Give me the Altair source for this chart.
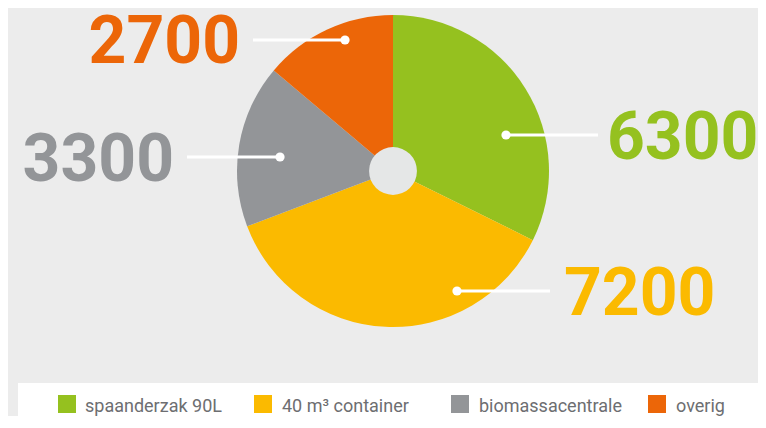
import altair as alt
import pandas as pd

# ---- data ----
categories = ["spaanderzak 90L", "40 m³ container", "biomassacentrale", "overig"]
values = [6300, 7200, 3300, 2700]
colors = ["#95c11f", "#fbba00", "#939598", "#ec6608"]

# ---- layout (pixel positions of annotations, chart coordinates) ----
W, H = 750, 408
CX, CY, R, HOLE = 385, 163, 156, 27
label_x = [599, 556, 166, 232]
label_y = [151, 307, 173, 55]
label_align = ["left", "left", "right", "right"]
line_x1 = [498, 449, 179, 245]
line_x2 = [590, 542, 272, 337]
line_y = [127, 283, 149, 32]
dot_x = [498, 449, 272, 337]
legend_sq_x = [59, 255, 452, 649]
legend_txt_x = [77, 274, 471, 668]
legend_y_sq = 396
legend_y_txt = 404

pie_df = pd.DataFrame({"cat": categories, "value": values, "idx": list(range(4))})
lab_df = pd.DataFrame({
    "cat": categories, "value": values, "x": label_x, "y": label_y, "align": label_align,
    "x1": line_x1, "x2": line_x2, "ly": line_y, "dx": dot_x,
})
leg_df = pd.DataFrame({"cat": categories, "sx": legend_sq_x, "tx": legend_txt_x})

xs = alt.Scale(domain=[0, W], nice=False, zero=False)
ys = alt.Scale(domain=[0, H], nice=False, zero=False, reverse=True)
col = alt.Color("cat:N", scale=alt.Scale(domain=categories, range=colors), legend=None)

pie = alt.Chart(pie_df).mark_arc(radius=R).encode(
    theta=alt.Theta("value:Q", stack=True),
    color=col,
    order=alt.Order("idx:Q"),
    x=alt.value(CX),
    y=alt.value(CY),
)

hole = alt.Chart(pd.DataFrame({"x": [CX], "y": [CY]})).mark_circle(
    size=3.14159 * HOLE * HOLE, color="#e5e7e7", opacity=1
).encode(
    x=alt.X("x:Q", scale=xs, axis=None),
    y=alt.Y("y:Q", scale=ys, axis=None),
)

lines = alt.Chart(lab_df).mark_rule(color="white", strokeWidth=3).encode(
    x=alt.X("x1:Q", scale=xs, axis=None),
    x2="x2:Q",
    y=alt.Y("ly:Q", scale=ys, axis=None),
)

dots = alt.Chart(lab_df).mark_circle(size=85, color="white", opacity=1).encode(
    x=alt.X("dx:Q", scale=xs, axis=None),
    y=alt.Y("ly:Q", scale=ys, axis=None),
)

labels_left = alt.Chart(lab_df).transform_filter(alt.datum.align == "left").mark_text(
    font="Roboto", fontWeight="bold", fontSize=66, align="left", baseline="alphabetic"
).encode(
    x=alt.X("x:Q", scale=xs, axis=None),
    y=alt.Y("y:Q", scale=ys, axis=None),
    text="value:Q",
    color=col,
)
labels_right = alt.Chart(lab_df).transform_filter(alt.datum.align == "right").mark_text(
    font="Roboto", fontWeight="bold", fontSize=66, align="right", baseline="alphabetic"
).encode(
    x=alt.X("x:Q", scale=xs, axis=None),
    y=alt.Y("y:Q", scale=ys, axis=None),
    text="value:Q",
    color=col,
)

legend_box = alt.Chart(pd.DataFrame({"x": [10], "x2": [W + 5], "y": [375], "y2": [H + 5]})).mark_rect(
    color="white"
).encode(
    x=alt.X("x:Q", scale=xs, axis=None), x2="x2:Q",
    y=alt.Y("y:Q", scale=ys, axis=None), y2="y2:Q",
)

leg_sq = alt.Chart(leg_df).mark_square(size=18 * 18, opacity=1).encode(
    x=alt.X("sx:Q", scale=xs, axis=None),
    y=alt.Y(datum=legend_y_sq, scale=ys, axis=None),
    color=col,
)
leg_txt = alt.Chart(leg_df).mark_text(
    font="Roboto", fontSize=18, align="left", baseline="alphabetic", color="#6d6e71"
).encode(
    x=alt.X("tx:Q", scale=xs, axis=None),
    y=alt.Y(datum=legend_y_txt, scale=ys, axis=None),
    text="cat:N",
)

chart = alt.layer(
    pie, hole, lines, dots, labels_left, labels_right, legend_box, leg_sq, leg_txt
).properties(
    width=W, height=H, background="#ececec", padding=0,
    autosize=alt.AutoSizeParams(type="none"),
).configure_view(stroke=None)

chart.save("out.html", embed_options={"renderer": "svg", "actions": False})
